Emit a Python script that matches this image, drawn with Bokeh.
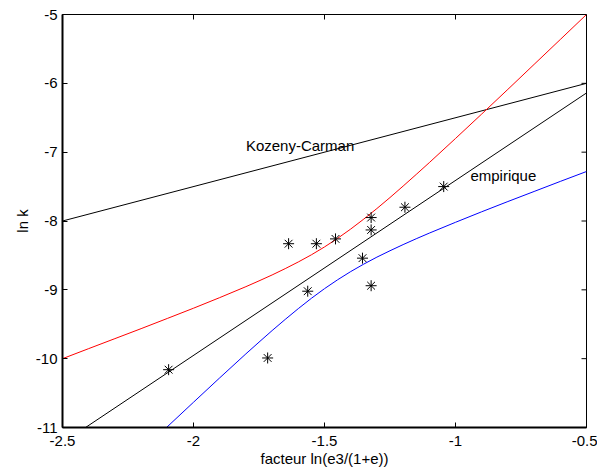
import math
from bokeh.plotting import figure
from bokeh.models import Range1d, FixedTicker, ColumnDataSource
from bokeh.core.properties import value
from bokeh.embed import file_html
from bokeh.resources import INLINE

# ---- data ----
obs_x = [-2.095, -1.717, -1.637, -1.531, -1.458, -1.322, -1.322, -1.355, -1.322, -1.564, -1.193, -1.045]
obs_y = [-10.16, -9.99, -8.33, -8.33, -8.26, -7.95, -8.13, -8.54, -8.94, -9.02, -7.80, -7.50]

emp_x = [-2.412, -0.5]
emp_y = [-11.0, -6.14]

kc_x = [-2.5, -0.5]
kc_y = [-8.0, -6.0]

upper_x = [-2.5, -2.4, -2.3, -2.2, -2.1, -2.0, -1.9, -1.8, -1.75, -1.7, -1.65, -1.6, -1.55, -1.5,
           -1.45, -1.4, -1.35, -1.3, -1.25, -1.2, -1.15, -1.1, -1.0, -0.9, -0.8, -0.7, -0.6, -0.5]
upper_y = [-10.00, -9.854, -9.709, -9.564, -9.416, -9.267, -9.113, -8.954, -8.870, -8.784, -8.692,
           -8.595, -8.491, -8.377, -8.252, -8.117, -7.972, -7.819, -7.659, -7.493, -7.324, -7.152,
           -6.801, -6.446, -6.087, -5.725, -5.363, -5.00]

lower_x = [-2.103, -2.0, -1.9, -1.8, -1.75, -1.7, -1.65, -1.6, -1.55, -1.5, -1.45, -1.4, -1.35,
           -1.3, -1.25, -1.2, -1.15, -1.1, -1.0, -0.9, -0.8, -0.7, -0.6, -0.5]
lower_y = [-11.0, -10.633, -10.279, -9.930, -9.760, -9.592, -9.430, -9.273, -9.123, -8.983, -8.854,
           -8.735, -8.626, -8.525, -8.432, -8.343, -8.258, -8.176, -8.019, -7.866, -7.717, -7.571,
           -7.425, -7.281]

label_x = [-1.80, -0.943]
label_y = [-6.91, -7.34]
label_text = ["Kozeny-Carman", "empirique"]

x_ticks = [-2.5, -2.0, -1.5, -1.0, -0.5]
x_tick_labels = ["-2.5", "-2", "-1.5", "-1", "-0.5"]
y_ticks = [-11, -10, -9, -8, -7, -6, -5]
y_tick_labels = ["-11", "-10", "-9", "-8", "-7", "-6", "-5"]

x_min, x_max = -2.5, -0.5
y_min, y_max = -11, -5

x_title = "facteur ln(e3/(1+e))"
y_title = "ln k"

FONT = "Liberation Sans"

p = figure(width=597, height=472, output_backend="svg", toolbar_location=None,
           x_range=Range1d(x_min, x_max), y_range=Range1d(y_min, y_max),
           min_border_left=62, min_border_right=11, min_border_top=14, min_border_bottom=45,
           background_fill_color="white", border_fill_color="white")
p.grid.visible = False
p.outline_line_color = "black"
p.outline_line_width = 1

# data series
p.line(kc_x, kc_y, line_color="black", line_width=1)
p.line(emp_x, emp_y, line_color="black", line_width=1)
p.line(upper_x, upper_y, line_color="#ff0000", line_width=1)
p.line(lower_x, lower_y, line_color="#0000ff", line_width=1)
p.scatter(obs_x, obs_y, marker="asterisk", size=11, line_color="black", line_width=1)

src = ColumnDataSource(dict(x=label_x, y=label_y, t=label_text))
p.text(x="x", y="y", text="t", source=src, text_font=value(FONT), text_font_size="15px",
       text_color="black", text_align="left", text_baseline="middle")

# inward ticks on the top and right edges of the box (outer half clipped by the frame)
p.scatter(x_ticks, [y_max] * len(x_ticks), marker="dash", angle=math.pi / 2, size=10,
          line_color="black", line_width=1)
p.scatter([x_max] * len(y_ticks), y_ticks, marker="dash", size=10,
          line_color="black", line_width=1)

def style_axis(ax, ticks, labels):
    ax.ticker = FixedTicker(ticks=ticks)
    ax.major_label_overrides = {t: s for t, s in zip(ticks, labels)}
    ax.minor_tick_line_color = None
    ax.major_tick_in = 5
    ax.major_tick_out = 0
    ax.major_tick_line_color = "black"
    ax.axis_line_color = "black"
    ax.axis_line_width = 2
    ax.major_label_text_font = FONT
    ax.major_label_text_color = "black"
    ax.major_label_text_font_size = "15px"
    ax.axis_label_text_font = FONT
    ax.axis_label_text_font_size = "15px"
    ax.axis_label_text_font_style = "normal"
    ax.axis_label_text_color = "black"

xa = p.xaxis[0]
style_axis(xa, x_ticks, x_tick_labels)
xa.major_label_standoff = 8
xa.axis_label = x_title
xa.axis_label_standoff = 1

ya = p.yaxis[0]
style_axis(ya, y_ticks, y_tick_labels)
ya.major_label_standoff = 5
ya.axis_label = y_title
ya.axis_label_standoff = 2

open("out.html", "w").write(file_html(p, INLINE))
